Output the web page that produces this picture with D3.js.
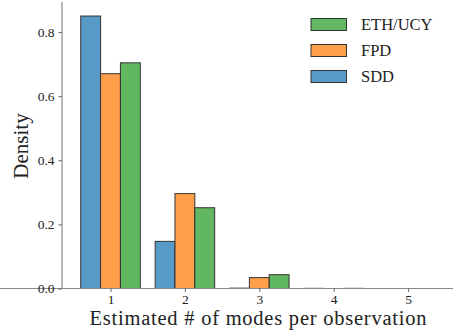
<!DOCTYPE html>
<html><head><meta charset="utf-8">
<script src="https://cdn.jsdelivr.net/npm/d3@7"></script>
<style>body{margin:0;background:#fff}svg{display:block}</style>
</head><body>
<script>
const categories = [1, 2, 3, 4, 5];
const seriesNames = ["SDD", "FPD", "ETH/UCY"];
const sddValues = [0.850, 0.147, 0.002, 0.001, 0.0];
const fpdValues = [0.670, 0.296, 0.034, 0.0, 0.0];
const ethValues = [0.704, 0.252, 0.043, 0.001, 0.0];
const yTicks = [0.0, 0.2, 0.4, 0.6, 0.8];
const legendOrder = ["ETH/UCY", "FPD", "SDD"];
const colors = {"SDD": "#5799c7", "FPD": "#ff9f4a", "ETH/UCY": "#61b861"};
const values = {"SDD": sddValues, "FPD": fpdValues, "ETH/UCY": ethValues};

const W = 453, H = 333;
const font = "'Liberation Serif', 'DejaVu Serif', serif";
const svg = d3.select("body").append("svg").attr("width", W).attr("height", H);

const x = d3.scaleLinear().domain([0.348, 5.61]).range([62, 453.5]);
const y = d3.scaleLinear().domain([0, 0.9]).range([288.5, 0]);
const unit = x(2) - x(1);
const bw = unit * 0.8 / 3;

const g = svg.append("g");
seriesNames.forEach((s, si) => {
  g.selectAll(null).data(categories.map((c, i) => ({c, v: values[s][i]})))
    .enter().append("rect")
    .attr("x", d => x(d.c) - 1.5 * bw + si * bw)
    .attr("y", d => y(d.v))
    .attr("width", bw)
    .attr("height", d => y(0) - y(d.v))
    .attr("fill", colors[s])
    .attr("stroke", d => d.v > 0.005 ? "#333" : "#999")
    .attr("stroke-width", 1);
});

// axes
const xAxis = d3.axisBottom(x).tickValues(categories).tickFormat(d3.format("d")).tickSize(3.5).tickPadding(2);
const yAxis = d3.axisLeft(y).tickValues(yTicks).tickFormat(d3.format(".1f")).tickSize(3.5).tickPadding(4);
const gx = svg.append("g").attr("transform", `translate(0,${y(0)})`).call(xAxis);
const gy = svg.append("g").attr("transform", `translate(62,0)`).call(yAxis);
[gx, gy].forEach(a => {
  a.select(".domain").attr("stroke", "#8a8a8a").attr("stroke-width", 1.2);
  a.selectAll(".tick line").attr("stroke", "#555").attr("stroke-width", 0.9);
  a.selectAll(".tick text").attr("font-family", font).attr("font-size", 13.5).attr("fill", "#222");
});
gy.select(".domain").attr("d", `M0,${y(0)}V2`);
gx.select(".domain").attr("d", `M0,0H453`);

// labels
svg.append("text").attr("x", 258).attr("y", 325).attr("text-anchor", "middle")
  .attr("font-family", font).attr("font-size", 20.5).attr("fill", "#222")
  .attr("textLength", 337).attr("lengthAdjust", "spacing")
  .text("Estimated # of modes per observation");
svg.append("text").attr("transform", "translate(28,146) rotate(-90)").attr("text-anchor", "middle")
  .attr("font-family", font).attr("font-size", 21).attr("fill", "#222")
  .text("Density");

// legend
const lg = svg.append("g");
legendOrder.forEach((s, i) => {
  const cy = 24.5 + i * 26;
  lg.append("rect").attr("x", 311).attr("y", cy - 6).attr("width", 35.5).attr("height", 12)
    .attr("fill", colors[s]).attr("stroke", "#333").attr("stroke-width", 1);
  lg.append("text").attr("x", 361).attr("y", cy + 5.5).attr("font-family", font)
    .attr("font-size", 16.5).attr("fill", "#222").text(s);
});
</script>
</body></html>
